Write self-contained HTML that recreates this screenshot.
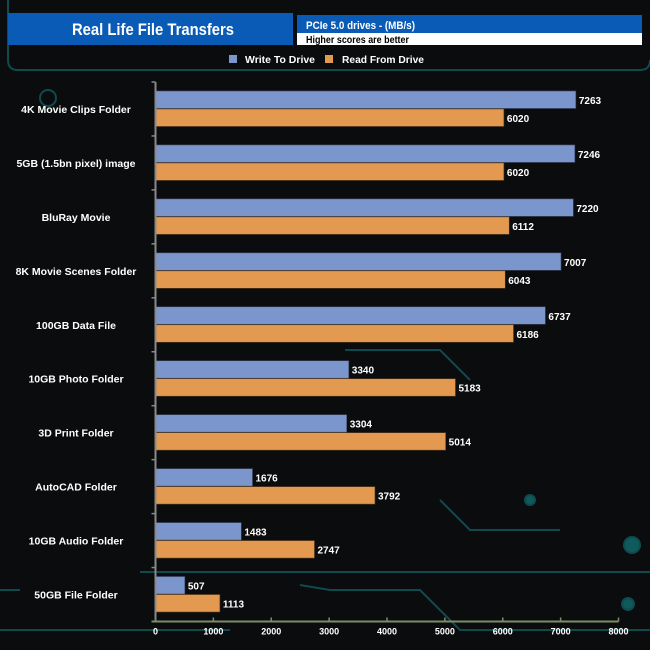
<!DOCTYPE html>
<html><head><meta charset="utf-8"><style>
body{margin:0;background:#0b0c0d;}
svg{display:block;font-family:"Liberation Sans",Arial,sans-serif;}
</style></head><body>
<svg id="chart" width="650" height="650" viewBox="0 0 650 650">
<rect width="650" height="650" fill="#0b0c0d"/>
<g stroke="#0f4b4e" stroke-width="2" fill="none">
<path d="M8 0 V60 Q8 70 18 70 H640 Q650 70 650 60"/>
<path d="M140 572 H650"/>
<path d="M300 585 L330 590 H420 L460 630 H650"/>
<path d="M0 590 H20"/><path d="M0 630 H230"/>
<path d="M440 500 L470 530 H560"/>
<path d="M345 350 H440 L470 380"/>
<circle cx="632" cy="545" r="8" fill="#0f5a5c"/><circle cx="628" cy="604" r="6" fill="#0f5a5c"/>
<circle cx="48" cy="98" r="8"/><circle cx="530" cy="500" r="5" fill="#0f5a5c"/>
</g>
<rect x="8" y="13" width="285" height="32" fill="#0a5bb5"/>
<text x="72" y="35" textLength="162" lengthAdjust="spacingAndGlyphs" fill="#fff" font-size="17" font-weight="bold">Real Life File Transfers</text>
<rect x="297" y="15" width="345" height="18" fill="#0a5bb5"/>
<text x="306" y="29" textLength="109" lengthAdjust="spacingAndGlyphs" fill="#fff" font-size="11" font-weight="bold">PCIe 5.0 drives - (MB/s)</text>
<rect x="297" y="33" width="345" height="12" fill="#fff"/>
<text x="306" y="43" textLength="103" lengthAdjust="spacingAndGlyphs" fill="#000" font-size="10" font-weight="bold">Higher scores are better</text>
<g font-size="10" font-weight="bold" fill="#fff">
<rect x="229" y="55" width="8" height="8" fill="#7b96cc"/>
<text x="245" y="63" textLength="70" lengthAdjust="spacingAndGlyphs">Write To  Drive</text>
<rect x="325" y="55" width="8" height="8" fill="#e39a50"/>
<text x="342" y="63" textLength="82" lengthAdjust="spacingAndGlyphs">Read From  Drive</text>
</g>
<g id="plot"></g>
</svg>
<script>
const categories=["4K Movie Clips Folder","5GB (1.5bn pixel) image","BluRay Movie","8K Movie Scenes Folder","100GB Data File","10GB Photo Folder","3D Print Folder","AutoCAD Folder","10GB Audio Folder","50GB File Folder"];
const writeValues=[7263,7246,7220,7007,6737,3340,3304,1676,1483,507];
const readValues=[6020,6020,6112,6043,6186,5183,5014,3792,2747,1113];
const ticks=[0,1000,2000,3000,4000,5000,6000,7000,8000];
const NS="http://www.w3.org/2000/svg";
const g=document.getElementById('plot');
const x0=155.5,x1=618.5,xMax=8000,yTop=82,yBot=621.5;
const xs=v=>x0+(v/xMax)*(x1-x0);
const band=(yBot-yTop)/categories.length;
const yc=i=>yTop+band*(i+0.5);
function mk(t,a){const e=document.createElementNS(NS,t);for(const k in a)e.setAttribute(k,a[k]);g.appendChild(e);return e;}
categories.forEach((c,i)=>{
 const cy=yc(i);
 let r=mk('rect',{x:x0,y:cy-18,width:xs(writeValues[i])-x0,height:17.5,fill:'#7b96cc',stroke:'#3a4560','stroke-width':0.6});
 
 
 r=mk('rect',{x:x0,y:cy,width:xs(readValues[i])-x0,height:17.5,fill:'#e39a50',stroke:'#5a3a18','stroke-width':0.6});
 
 
 let t=mk('text',{x:xs(writeValues[i])+3,y:cy-5,fill:'#fff','font-size':10,'font-weight':'bold'});t.textContent=writeValues[i];
 
 
 t=mk('text',{x:xs(readValues[i])+3,y:cy+13,fill:'#fff','font-size':10,'font-weight':'bold'});t.textContent=readValues[i];
 
 
 t=mk('text',{x:76,y:cy+4,fill:'#fff','font-size':10.5,'font-weight':'bold','text-anchor':'middle'});t.textContent=c;
 
 
 const tk=mk('line',{x1:x0-4,x2:x0,y1:yTop+band*i,y2:yTop+band*i,stroke:'#888','stroke-width':1.5});
 
 
});
let ax=mk('line',{x1:x0,x2:x0,y1:yTop,y2:yBot,stroke:'#8a8a8a','stroke-width':2});


ax=mk('line',{x1:x0-4,x2:x1,y1:yBot,y2:yBot,stroke:'#7d8d6c','stroke-width':2});


ticks.forEach(v=>{
 const l=mk('line',{x1:xs(v),x2:xs(v),y1:yBot-4,y2:yBot,stroke:'#7d8d6c','stroke-width':1.5});
 
 
 const t=mk('text',{x:xs(v),y:yBot+13,fill:'#fff','font-size':9,'font-weight':'bold','text-anchor':'middle'});t.textContent=v;
 
 
});
</script>
</body></html>
